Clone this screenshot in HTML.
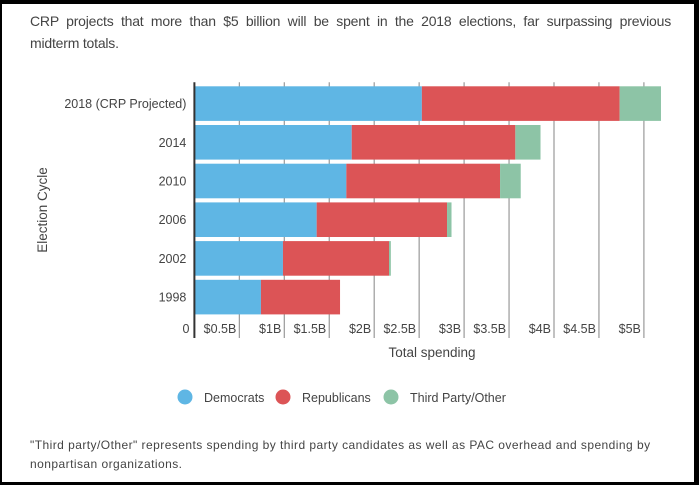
<!DOCTYPE html>
<html><head><meta charset="utf-8">
<style>
html,body{margin:0;padding:0;background:#000;}
#frame{position:absolute;left:2px;top:4px;width:692px;height:478px;background:#fff;overflow:hidden;font-family:"Liberation Sans",sans-serif;color:#444;}
#title{position:absolute;left:28px;top:6px;width:641px;font-size:14px;line-height:22px;letter-spacing:-0.2px;}
#title .l1{display:block;text-align:justify;text-align-last:justify;}
#note{position:absolute;left:28px;top:432px;width:664px;font-size:12px;line-height:19px;letter-spacing:0.45px;white-space:nowrap;}
svg{position:absolute;left:0;top:0;}
</style></head><body>
<div id="frame">
<div id="title"><span class="l1">CRP projects that more than $5 billion will be spent in the 2018 elections, far surpassing previous</span>midterm totals.</div>
<svg id="chart" width="692" height="478"></svg>
<div id="note">"Third party/Other" represents spending by third party candidates as well as PAC overhead and spending by<br>nonpartisan organizations.</div>
</div>
<script>
const categories = ["2018 (CRP Projected)","2014","2010","2006","2002","1998"];
const democrats = [2.53,1.75,1.69,1.36,0.985,0.74];
const republicans = [2.20,1.82,1.71,1.45,1.18,0.88];
const thirdParty = [0.46,0.28,0.23,0.05,0.02,0];
const tickValues = [0.5,1,1.5,2,2.5,3,3.5,4,4.5,5];
const tickLabels = ["$0.5B","$1B","$1.5B","$2B","$2.5B","$3B","$3.5B","$4B","$4.5B","$5B"];
const seriesNames = ["Democrats","Republicans","Third Party/Other"];
const colors = ["#5fb6e4","#dc5456","#8dc4a6"];

const svg = document.getElementById('chart');
const NS = "http://www.w3.org/2000/svg";
const ox = 2, oy = 4;
const x0 = 194.4 - ox, pxPerB = 89.9;
const top0 = 82.3 - oy, band = 38.7, barH = 34.6;
const axisBottom = 338 - oy;
const xs = v => x0 + v * pxPerB;
const ys = i => top0 + i * band + 4;
function el(tag, attrs, parent){const e=document.createElementNS(NS,tag);for(const k in attrs)e.setAttribute(k,attrs[k]);(parent||svg).appendChild(e);return e;}

tickValues.forEach((v,i)=>{
  const g = el('line',{x1:xs(v),x2:xs(v),y1:top0,y2:axisBottom,stroke:'#999','stroke-width':1.2});
  
  
  const t = el('text',{x:xs(v)-3,y:axisBottom-5,'text-anchor':'end','font-size':12.5,fill:'#444'});
  t.textContent = tickLabels[i];
  
  
});
const zero = el('text',{x:x0-5,y:axisBottom-5,'text-anchor':'end','font-size':12.5,fill:'#444'});
zero.textContent='0';



categories.forEach((c,i)=>{
  const vals=[democrats[i],republicans[i],thirdParty[i]];
  let acc=0;
  vals.forEach((v,s)=>{
    if(v>0){
      const r=el('rect',{x:xs(acc),y:ys(i),width:xs(acc+v)-xs(acc),height:barH,fill:colors[s]});
      
      
    }
    acc+=v;
  });
  const t=el('text',{x:x0-8,y:ys(i)+barH/2+4.5,'text-anchor':'end','font-size':12.5,fill:'#444'});
  t.textContent=c;
  
  
});

const ax=el('line',{x1:x0,x2:x0,y1:top0,y2:axisBottom,stroke:'#333','stroke-width':2});



const xt=el('text',{x:432-ox,y:357-oy,'text-anchor':'middle','font-size':13.5,fill:'#444'});
xt.textContent='Total spending';


const yt=el('text',{x:0,y:0,'text-anchor':'middle','font-size':13.5,fill:'#444',transform:`translate(${47-ox},${210-oy}) rotate(-90)`});
yt.textContent='Election Cycle';



const legX=[185,283,391];
seriesNames.forEach((n,s)=>{
  const c=el('circle',{cx:legX[s]-ox,cy:397-oy,r:7.5,fill:colors[s]});
  
  
  const t=el('text',{x:legX[s]+19-ox,y:402-oy,'font-size':12.5,fill:'#444'});
  t.textContent=n;
  
  
});
</script>
</body></html>
